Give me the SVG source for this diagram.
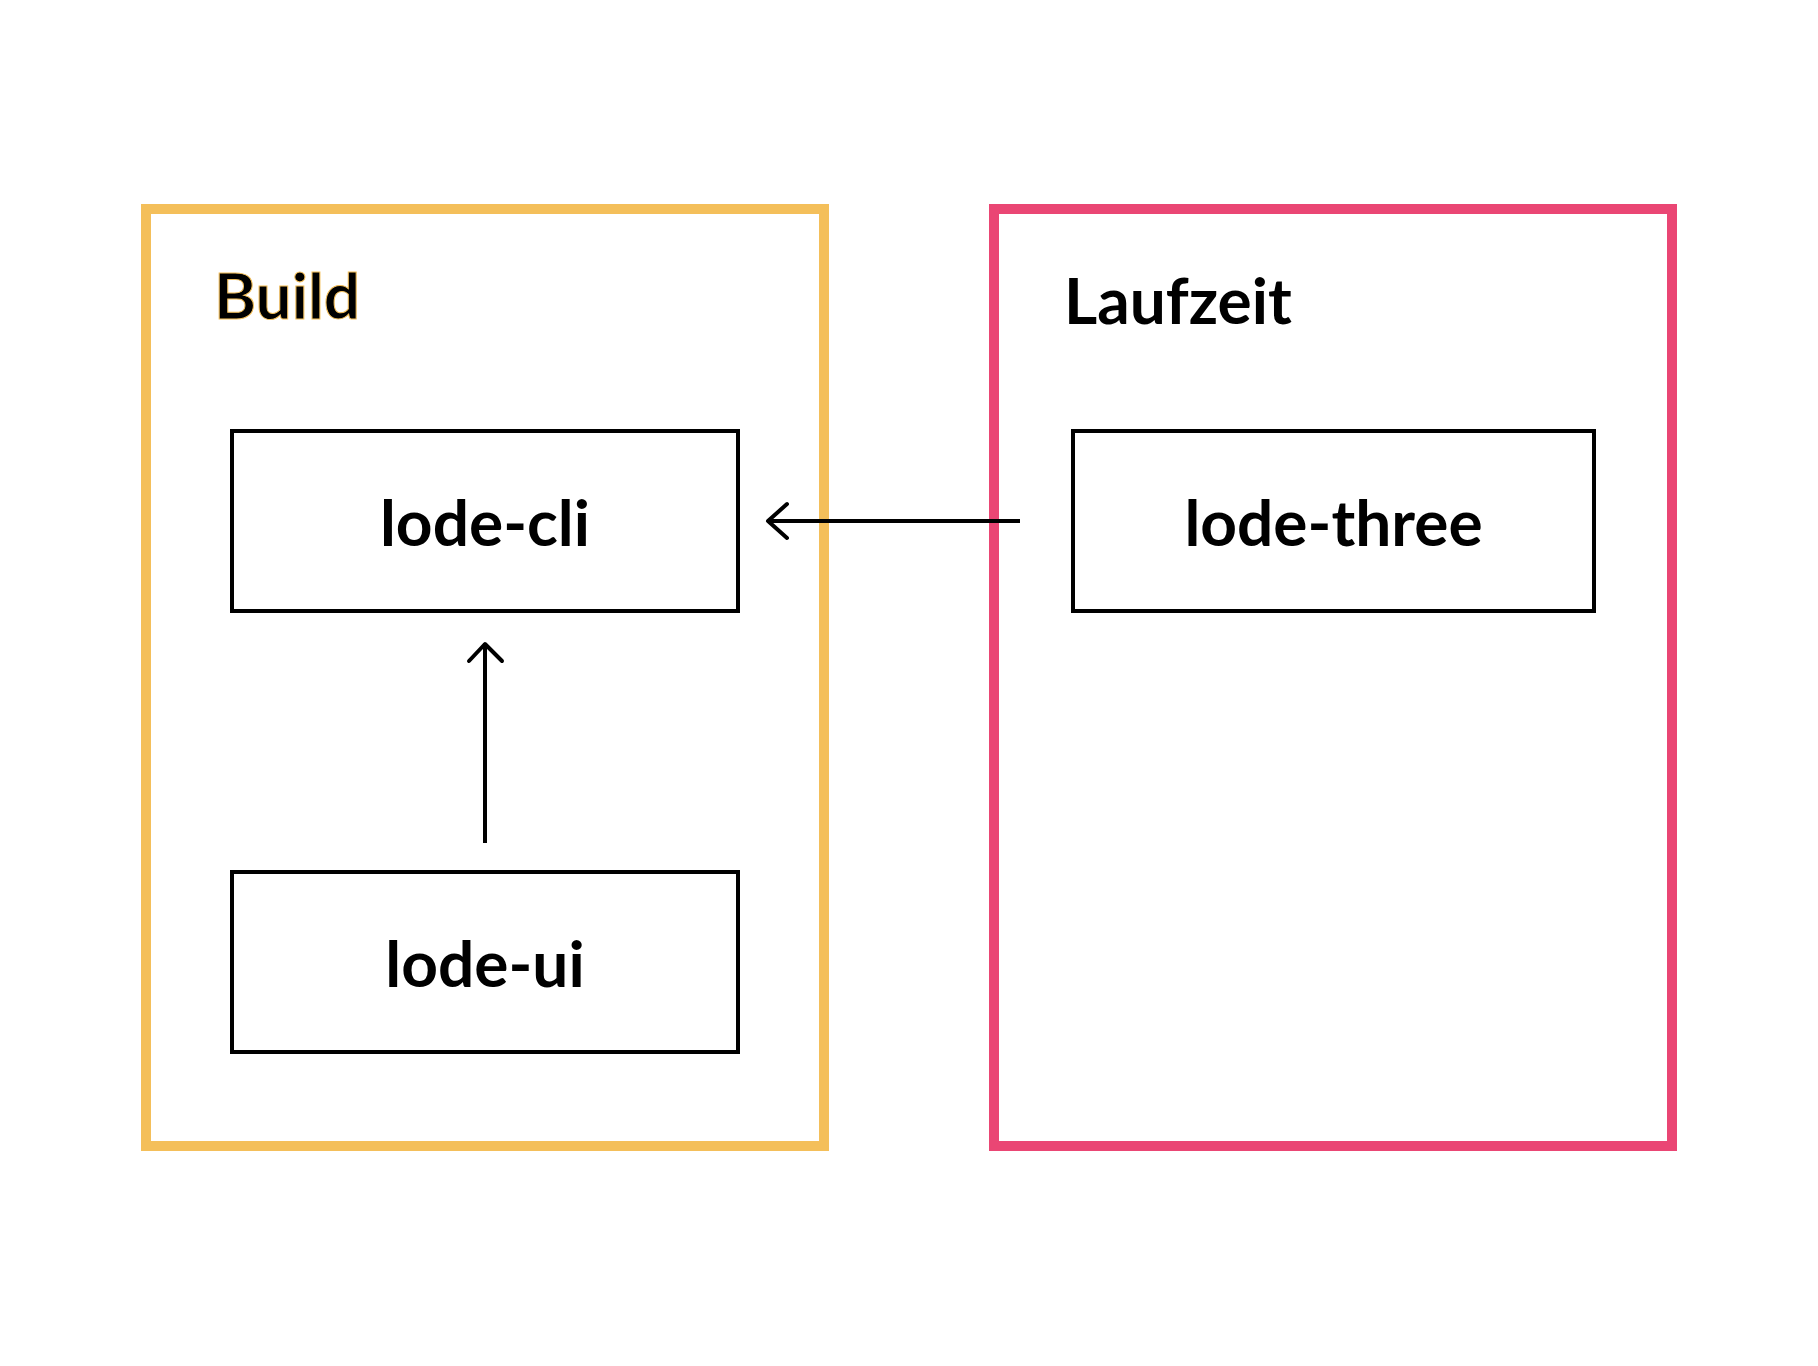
<svg xmlns="http://www.w3.org/2000/svg" width="1818" height="1366" viewBox="0 0 1818 1366">
<defs>
<style>
.frame{fill:none;stroke-width:10}
.box{fill:#fff;stroke:#000;stroke-width:4}
.t{font-family:Lato,"Noto Sans",sans-serif;font-weight:700;font-size:64px;fill:#000}
.c{stroke:#000;stroke-width:4;fill:none;stroke-linejoin:round}
</style>
</defs>
<rect width="1818" height="1366" fill="#fff"/>
<g id="build">
<rect class="frame" x="146" y="209" width="678" height="937" stroke="#F4BF5A"/>
<text class="t" x="214" y="319" stroke="#F4BF5A" stroke-width="1">Build</text>
</g>
<g id="laufzeit">
<rect class="frame" x="994" y="209" width="678" height="937" stroke="#EA4674"/>
<text class="t" x="1064" y="324">Laufzeit</text>
</g>
<g id="lode-cli">
<rect class="box" x="232" y="431" width="506" height="180"/>
<text class="t" x="485" y="546" text-anchor="middle">lode-cli</text>
</g>
<g id="lode-ui">
<rect class="box" x="232" y="872" width="506" height="180"/>
<text class="t" x="485" y="987" text-anchor="middle">lode-ui</text>
</g>
<g id="lode-three">
<rect class="box" x="1073" y="431" width="521" height="180"/>
<text class="t" x="1333.5" y="546" text-anchor="middle">lode-three</text>
</g>
<g id="connectors">
<path class="c" d="M1020 521 H768"/>
<path class="c" d="M787 504 L768 521 L787 538" stroke-linecap="round"/>
<path class="c" d="M485 843 V643"/>
<path class="c" d="M469 661 L485 644 L502 661" stroke-linecap="round"/>
</g>
</svg>
